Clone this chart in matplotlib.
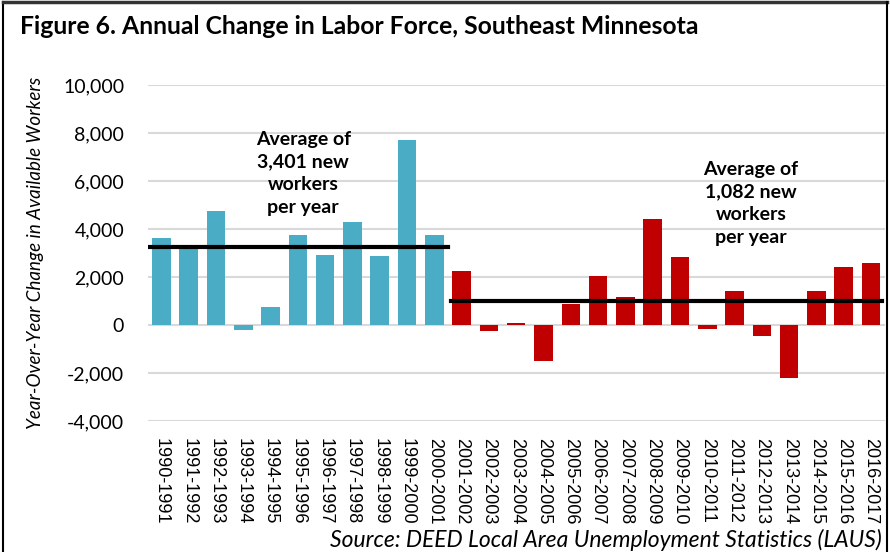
import numpy as np
import matplotlib
matplotlib.use('Agg')
import matplotlib.pyplot as plt
from matplotlib.lines import Line2D

# Data
periods = ['1990-1991', '1991-1992', '1992-1993', '1993-1994', '1994-1995', '1995-1996',
           '1996-1997', '1997-1998', '1998-1999', '1999-2000', '2000-2001', '2001-2002',
           '2002-2003', '2003-2004', '2004-2005', '2005-2006', '2006-2007', '2007-2008',
           '2008-2009', '2009-2010', '2010-2011', '2011-2012', '2012-2013', '2013-2014',
           '2014-2015', '2015-2016', '2016-2017']
change = [3630, 3200, 4750, -200, 770, 3750, 2930, 4290, 2890, 7690, 3750, 2270,
          -250, 100, -1480, 890, 2060, 1180, 4430, 2840, -150, 1440, -470, -2210,
          1440, 2400, 2570]
n_early = 11  # 1990-2001 in teal
avg_early = 3250
avg_late = 1020
yticks = [-4000, -2000, 0, 2000, 4000, 6000, 8000, 10000]

teal = '#4BACC6'
red = '#C00000'

plt.rcParams['font.family'] = ['Liberation Sans', 'DejaVu Sans']

fig = plt.figure(figsize=(8.9, 5.52), dpi=100)
ax = fig.add_axes([0.166, 0.237, 0.828, 0.609])

x = np.arange(len(periods))
colors = [teal if i < n_early else red for i in range(len(periods))]
ax.bar(x, change, width=0.68, color=colors, zorder=2)

ax.plot([-0.6, 10.5], [avg_early, avg_early], color='black', lw=3, zorder=3)
ax.plot([10.6, 26.4], [avg_late, avg_late], color='black', lw=3, zorder=3)

ax.text(5.2, 8100, 'Average of\n3,401 new\nworkers\nper year', ha='center', va='top',
        fontsize=14, fontweight='bold', family='Lato', linespacing=1.42, zorder=4)
ax.text(21.6, 6850, 'Average of\n1,082 new\nworkers\nper year', ha='center', va='top',
        fontsize=14, fontweight='bold', family='Lato', linespacing=1.42, zorder=4)

ax.set_xlim(-0.5, 26.5)
ax.set_ylim(-4000, 10000)
ax.set_yticks(yticks)
ax.set_yticklabels([f'{v:,}' for v in yticks], fontsize=14, family='Lato')
ax.set_xticks(x)
ax.set_xticklabels(periods, rotation=270, fontsize=13)
ax.tick_params(axis='y', length=0, pad=17)
ax.tick_params(axis='x', length=0, pad=12)
ax.yaxis.grid(True, color='#d9d9d9', lw=1.5, zorder=0)
for s in ax.spines.values():
    s.set_visible(False)

ax.set_ylabel('Year-Over-Year Change in Available Workers', fontsize=13.5,
              style='italic', family='Lato', labelpad=14)

fig.text(0.022, 0.952, 'Figure 6. Annual Change in Labor Force, Southeast Minnesota',
         fontsize=17.8, fontweight='bold', family='Lato', va='center')
fig.text(0.991, 0.022, 'Source: DEED Local Area Unemployment Statistics (LAUS)',
         fontsize=16.5, style='italic', family='Lato', ha='right', va='center')

# frame round the figure (bottom edge is cut off in the reference)
fig.add_artist(Line2D([0.003, 0.003], [0, 0.997], color='black', lw=1.5))
fig.add_artist(Line2D([0.003, 0.997], [0.996, 0.996], color='#333333', lw=2.5))
fig.add_artist(Line2D([0.997, 0.997], [0, 0.997], color='black', lw=1.5))

fig.savefig('out.png', dpi=100)
